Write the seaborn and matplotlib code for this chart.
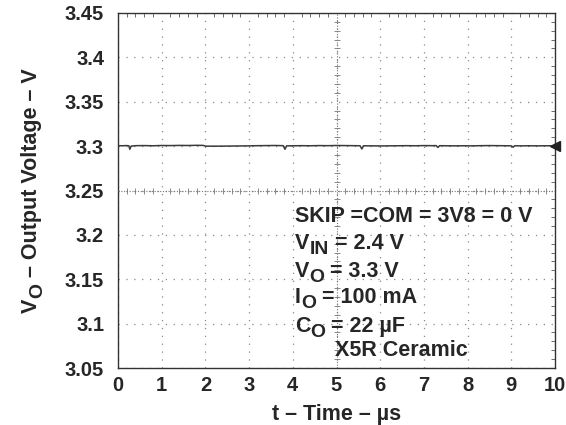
import numpy as np
import pandas as pd
import matplotlib
matplotlib.use("Agg")
import matplotlib.pyplot as plt
from matplotlib.ticker import MultipleLocator
from matplotlib.transforms import offset_copy
import seaborn as sns

# ---- data ----
t_us = [0.00, 0.10, 0.20, 0.25, 0.27, 0.30, 0.40, 0.60, 0.80, 1.00, 1.20, 1.40, 1.60, 1.80,
        1.95, 2.00, 2.20, 2.40, 2.60, 2.80, 3.00, 3.20, 3.40, 3.60, 3.78, 3.82, 3.86,
        4.00, 4.20, 4.40, 4.60, 4.80, 5.00, 5.20, 5.40, 5.54, 5.58, 5.62,
        5.80, 6.00, 6.20, 6.40, 6.60, 6.80, 7.00, 7.20, 7.28, 7.32, 7.36,
        7.50, 7.70, 7.90, 8.10, 8.30, 8.50, 8.70, 8.90, 9.00, 9.04, 9.08,
        9.20, 9.40, 9.60, 9.80, 10.00]
v_out = [3.3005, 3.3004, 3.3006, 3.3003, 3.2965, 3.3000, 3.3005,
         3.3006, 3.3004, 3.3007, 3.3006, 3.3008, 3.3007, 3.3009,
         3.3008, 3.3000, 3.2999, 3.3000, 3.3001, 3.3002, 3.3003,
         3.3005, 3.3006, 3.3007, 3.3005, 3.2965, 3.3003,
         3.3004, 3.3005, 3.3004, 3.3006, 3.3005, 3.3007,
         3.3006, 3.3005, 3.3004, 3.2968, 3.3004,
         3.3003, 3.3002, 3.3003, 3.3004, 3.3005, 3.3004, 3.3006,
         3.3005, 3.3006, 3.2985, 3.3005,
         3.3004, 3.3003, 3.3004, 3.3003, 3.3005, 3.3006, 3.3005, 3.3004,
         3.3003, 3.2988, 3.3004,
         3.3003, 3.3004, 3.3003, 3.3004, 3.3003]
x_ticks = [0, 1, 2, 3, 4, 5, 6, 7, 8, 9, 10]
y_ticks = [3.05, 3.1, 3.15, 3.2, 3.25, 3.3, 3.35, 3.4, 3.45]
y_tick_labels = ["3.05", "3.1", "3.15", "3.2", "3.25", "3.3", "3.35", "3.4", "3.45"]
ref_level = 3.3
x_label = "t – Time – µs"
# (text, is_subscript) pieces
y_label = [("V", False), ("O", True), (" – Output Voltage – V", False)]
notes = [[("SKIP =COM = 3V8 = 0 V", False)],
         [("V", False), ("IN", True), (" = 2.4 V", False)],
         [("V", False), ("O", True), (" = 3.3 V", False)],
         [("I", False), ("O", True), (" = 100 mA", False)],
         [("C", False), ("O", True), (" = 22 µF", False)],
         [("X5R Ceramic", False)]]

sns.set_theme(style="white")
plt.rcParams["font.family"] = ["Liberation Sans", "DejaVu Sans"]
plt.rcParams["font.weight"] = "bold"

TXT = "#262626"
fig = plt.figure(figsize=(5.66, 4.25), dpi=100)
ax = fig.add_axes([118/566, 1-368/425, (555-118)/566, (368-13)/425])

df = pd.DataFrame({"t": t_us, "v": v_out})
sns.lineplot(data=df, x="t", y="v", ax=ax, color="#3a3a3a", lw=1.1, zorder=5)

ax.set_xlim(0, 10)
ax.set_ylim(3.05, 3.45)
ax.set_xticks(x_ticks)
ax.set_yticks(y_ticks)
ax.set_yticklabels(y_tick_labels)
ax.xaxis.set_minor_locator(MultipleLocator(0.2))
ax.yaxis.set_minor_locator(MultipleLocator(0.01))
ax.tick_params(which="both", direction="in", top=True, right=True, colors="#555555",
               labelcolor=TXT)
ax.tick_params(which="major", length=0, labelsize=14.5)
ax.tick_params(axis="y", which="major", pad=10)
ax.tick_params(axis="x", which="major", pad=6)
ax.tick_params(which="minor", length=3, width=0.6)
for lab in ax.get_xticklabels() + ax.get_yticklabels():
    lab.set_fontweight("bold")

ax.grid(True, which="major", color="#888888", linestyle=(0, (1, 5.3)), lw=0.9)
for s in ax.spines.values():
    s.set_color("#333333")
    s.set_linewidth(1.0)

# graticule centre crosshair
xc = sum(ax.get_xlim()) / 2
yc = sum(ax.get_ylim()) / 2
ax.axvline(xc, color="#777777", lw=0.8, linestyle=(0, (1, 1.5)), zorder=3)
ax.axhline(yc, color="#777777", lw=0.8, linestyle=(0, (1, 1.5)), zorder=3)
xm = ax.xaxis.get_minorticklocs()
ym = ax.yaxis.get_minorticklocs()
ax.plot(xm, [yc] * len(xm), ls="none", marker="|", ms=5, mew=0.6, color="#777777", zorder=3)
ax.plot([xc] * len(ym), ym, ls="none", marker="_", ms=5, mew=0.6, color="#777777", zorder=3)

# reference marker on right edge
ax.plot([ax.get_xlim()[1]], [ref_level], marker="<", ms=7, color="#222222",
        clip_on=False, zorder=6)

ax.set_xlabel(x_label, fontsize=15.5, fontweight="bold", color=TXT, labelpad=6)
ax.set_ylabel("")

renderer = fig.canvas.get_renderer()
FS = 15.5
SUB_SCALE = 0.9
SUB_DROP = 3.5  # points


def piece_len(s, fs):
    t = fig.text(0, 0, s, fontsize=fs, fontweight="bold")
    w = t.get_window_extent(renderer).width * 72 / fig.dpi
    t.remove()
    return w


def rich(x, y, parts, base, rotation=0, center=False):
    lens = [piece_len(s, FS * (SUB_SCALE if sub else 1)) for s, sub in parts]
    adv = -sum(lens) / 2 if center else 0.0
    for (s, sub), L in zip(parts, lens):
        fs = FS * (SUB_SCALE if sub else 1)
        dy = -SUB_DROP if sub else 0.0
        if rotation == 0:
            tr = offset_copy(base, fig, x=adv, y=dy, units="points")
        else:
            tr = offset_copy(base, fig, x=-dy, y=adv, units="points")
        fig.text(x, y, s, transform=tr, fontsize=fs, fontweight="bold", color=TXT,
                 rotation=rotation, rotation_mode="anchor", ha="left", va="baseline",
                 zorder=7)
        adv += L


ys = [0.411, 0.335, 0.256, 0.183, 0.101, 0.034]
xs = [0.405, 0.405, 0.405, 0.405, 0.405, 0.497]
for parts, xx, yy in zip(notes, xs, ys):
    rich(xx, yy, parts, ax.transAxes)

# y-axis label, rotated, centred on the axes height
rich(37 / 566, 0.5 * (1 - 368/425) + 0.5 * (1 - 13/425), y_label, fig.transFigure,
     rotation=90, center=True)

fig.savefig("out.png", dpi=100)
